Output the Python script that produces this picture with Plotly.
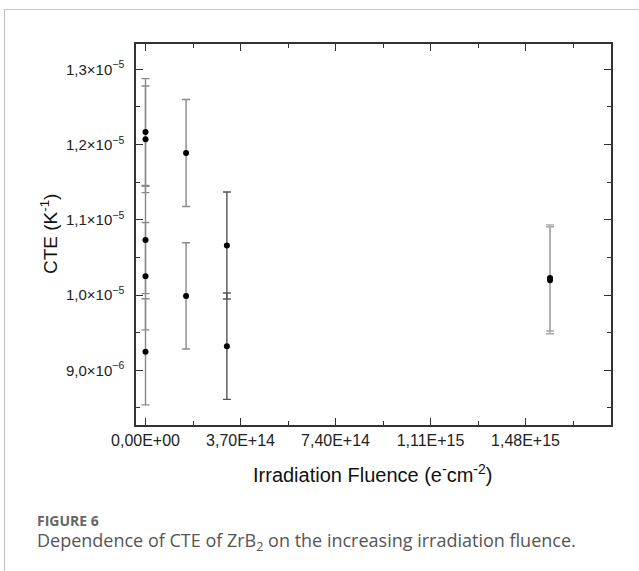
import plotly.graph_objects as go

# ---------------- data ----------------
fluence_g1 = [0, 0, 0, 0, 0]
cte_g1 = [1.2167e-5, 1.2070e-5, 1.0733e-5, 1.0251e-5, 9.246e-6]
err_g1 = [7.09e-7, 7.08e-7, 7.14e-7, 7.13e-7, 7.05e-7]

fluence_g2 = [1.58e14, 1.58e14]
cte_g2 = [1.1888e-5, 9.989e-6]
err_g2 = [7.11e-7, 7.06e-7]

fluence_g3 = [3.17e14, 3.17e14]
cte_g3 = [1.0659e-5, 9.321e-6]
err_g3 = [7.10e-7, 7.06e-7]

fluence_g4 = [1.5755e15, 1.5755e15]
cte_g4 = [1.0228e-5, 1.0197e-5]
err_g4 = [7.05e-7, 7.10e-7]

x_tickvals = [0, 3.7e14, 7.4e14, 1.11e15, 1.48e15]
x_ticktext = ["0,00E+00", "3,70E+14", "7,40E+14", "1,11E+15", "1,48E+15"]
x_minor = [1.85e14, 5.55e14, 9.25e14, 1.295e15, 1.665e15]

y_tickvals = [9.0e-6, 1.0e-5, 1.1e-5, 1.2e-5, 1.3e-5]
y_ticktext = ["9,0×10<sup>−6</sup>", "1,0×10<sup>−5</sup>", "1,1×10<sup>−5</sup>",
              "1,2×10<sup>−5</sup>", "1,3×10<sup>−5</sup>"]
y_minor = [8.5e-6, 9.5e-6, 1.05e-5, 1.15e-5, 1.25e-5]

groups = [
    (fluence_g1, cte_g1, err_g1, "#8a8a8a"),
    (fluence_g2, cte_g2, err_g2, "#8a8a8a"),
    (fluence_g3, cte_g3, err_g3, "#555555"),
    (fluence_g4, cte_g4, err_g4, "#a8a8a8"),
]

W, H = 639, 571
L, R, T, B = 136, 611, 44, 425
pw, ph = R - L, B - T

def px(xp):
    return (xp - L) / pw

def py(yp):
    return (B - yp) / ph

fig = go.Figure()
for xs, ys, es, col in groups:
    fig.add_trace(go.Scatter(
        x=xs, y=ys, mode="markers",
        marker=dict(color="black", size=6),
        error_y=dict(type="data", array=es, visible=True, color=col,
                     thickness=1.4, width=4),
        showlegend=False, hoverinfo="skip",
    ))

font_family = "Liberation Sans, Arial, sans-serif"

fig.update_layout(
    width=W, height=H,
    margin=dict(l=L, r=W - R, t=T, b=H - B),
    paper_bgcolor="white", plot_bgcolor="white",
    xaxis=dict(
        range=[-3.7e13, 1.813e15],
        tickmode="array", tickvals=x_tickvals, ticktext=x_ticktext,
        ticks="inside", ticklen=7, tickwidth=1.3, tickcolor="#333",
        showline=True, linecolor="#333", linewidth=1.5, mirror="ticks",
        showgrid=False, zeroline=False,
        tickfont=dict(family=font_family, size=16, color="#222"),
        minor=dict(tickvals=x_minor, ticks="inside", ticklen=4,
                   tickwidth=1.3, tickcolor="#333", showgrid=False),
    ),
    yaxis=dict(
        range=[8.274e-6, 1.3336e-5],
        tickmode="array", tickvals=y_tickvals, ticktext=y_ticktext,
        ticks="inside", ticklen=7, tickwidth=1.3, tickcolor="#333",
        showline=True, linecolor="#333", linewidth=1.5, mirror="ticks",
        showgrid=False, zeroline=False,
        tickfont=dict(family=font_family, size=15, color="#222"),
        ticklabelstandoff=7,
        minor=dict(tickvals=y_minor, ticks="inside", ticklen=4,
                   tickwidth=1.3, tickcolor="#333", showgrid=False),
    ),
)

# axis titles
fig.add_annotation(
    text="CTE (K<sup>-1</sup>)", textangle=-90,
    x=px(49), y=py(234), xref="paper", yref="paper",
    xanchor="center", yanchor="middle", showarrow=False,
    font=dict(family=font_family, size=19, color="#111"),
)
fig.add_annotation(
    text="Irradiation Fluence (e<sup>-</sup>cm<sup>-2</sup>)",
    x=px(372), y=py(473), xref="paper", yref="paper",
    xanchor="center", yanchor="middle", showarrow=False,
    font=dict(family=font_family, size=20, color="#111"),
)

# caption
fig.add_annotation(
    text="<b>FIGURE 6</b>",
    x=px(35), y=py(520), xref="paper", yref="paper",
    xanchor="left", yanchor="middle", showarrow=False,
    font=dict(family="Open Sans, Noto Sans, sans-serif", size=14, color="#666"),
)
fig.add_annotation(
    text="Dependence of CTE of ZrB<sub>2</sub> on the increasing irradiation fluence.",
    x=px(35), y=py(541), xref="paper", yref="paper",
    xanchor="left", yanchor="middle", showarrow=False,
    font=dict(family="Open Sans, Noto Sans, sans-serif", size=18, color="#555"),
)

# frame lines (top and left)
fig.add_shape(type="line", xref="paper", yref="paper",
              x0=px(4.5), x1=px(639), y0=py(9.5), y1=py(9.5),
              line=dict(color="#c4c4c4", width=1.2))
fig.add_shape(type="line", xref="paper", yref="paper",
              x0=px(4.5), x1=px(4.5), y0=py(9.5), y1=py(571),
              line=dict(color="#c4c4c4", width=1.2))

fig.write_html("out.html", config={"displayModeBar": False},
               post_script="document.body.style.margin='0';document.body.style.overflow='hidden';")
